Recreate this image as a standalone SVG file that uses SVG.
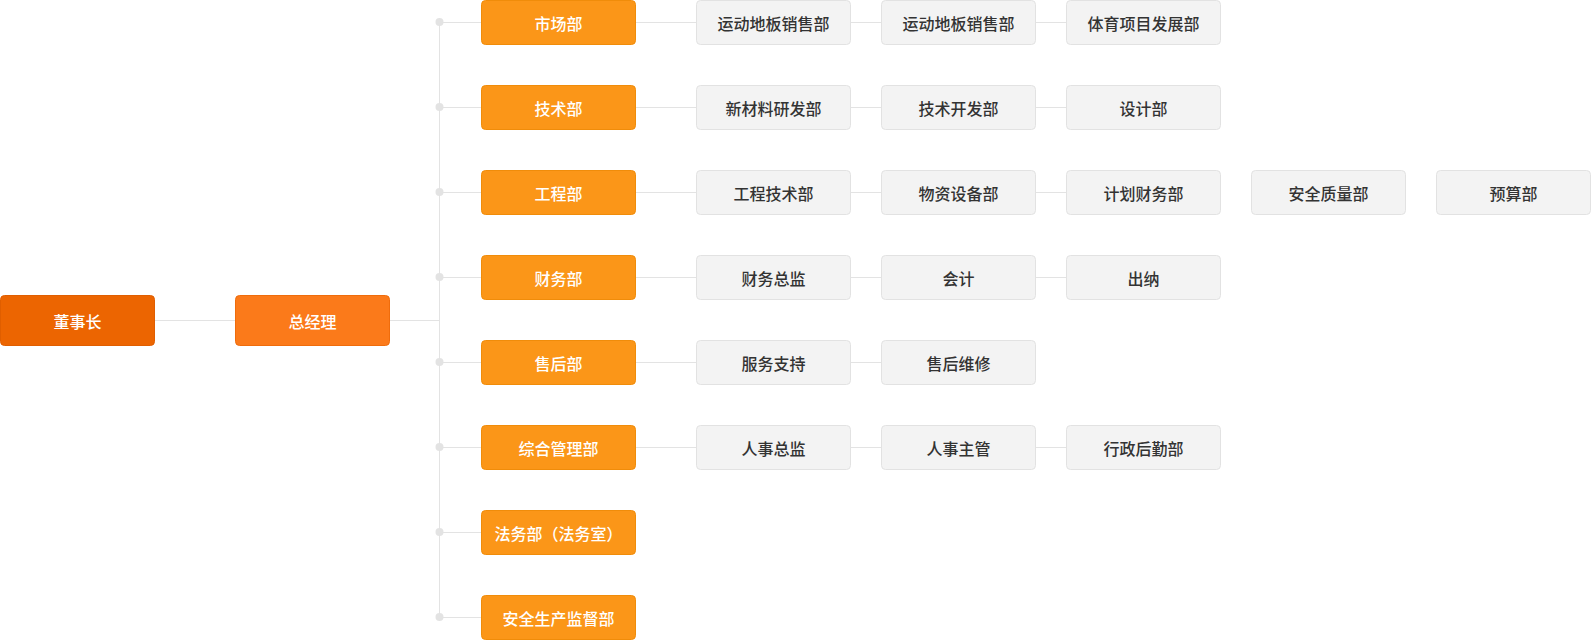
<svg xmlns="http://www.w3.org/2000/svg" width="1591" height="640" viewBox="0 0 1591 640">
<style>
.t{font-family:"Noto Sans CJK SC","Noto Sans",sans-serif;font-size:16px;font-weight:500;text-anchor:middle;dominant-baseline:central}
.w{fill:#ffffff}
.g{fill:#333333}
.o rect{fill:#fb9618;stroke:#f08c0a;stroke-width:1}
.s rect{fill:#f3f3f3;stroke:#e2e2e2;stroke-width:1}
.c line{stroke:#e3e3e3;stroke-width:1}
.c circle{fill:#e3e3e3}
</style>
<rect width="1591" height="640" fill="#ffffff"/>
<g id="connectors" class="c">
<line x1="155" y1="320.5" x2="235" y2="320.5"/>
<line x1="390" y1="320.5" x2="439.5" y2="320.5"/>
<line x1="439.5" y1="22" x2="439.5" y2="617"/>
<line x1="439.5" y1="22.5" x2="481" y2="22.5"/>
<line x1="439.5" y1="107.5" x2="481" y2="107.5"/>
<line x1="439.5" y1="192.5" x2="481" y2="192.5"/>
<line x1="439.5" y1="277.5" x2="481" y2="277.5"/>
<line x1="439.5" y1="362.5" x2="481" y2="362.5"/>
<line x1="439.5" y1="447.5" x2="481" y2="447.5"/>
<line x1="439.5" y1="532.5" x2="481" y2="532.5"/>
<line x1="439.5" y1="617.5" x2="481" y2="617.5"/>
<circle cx="439.5" cy="22" r="4"/>
<circle cx="439.5" cy="107" r="4"/>
<circle cx="439.5" cy="192" r="4"/>
<circle cx="439.5" cy="277" r="4"/>
<circle cx="439.5" cy="362" r="4"/>
<circle cx="439.5" cy="447" r="4"/>
<circle cx="439.5" cy="532" r="4"/>
<circle cx="439.5" cy="617" r="4"/>
<line x1="636" y1="22.5" x2="696" y2="22.5"/>
<line x1="851" y1="22.5" x2="881" y2="22.5"/>
<line x1="1036" y1="22.5" x2="1066" y2="22.5"/>
<line x1="636" y1="107.5" x2="696" y2="107.5"/>
<line x1="851" y1="107.5" x2="881" y2="107.5"/>
<line x1="1036" y1="107.5" x2="1066" y2="107.5"/>
<line x1="636" y1="192.5" x2="696" y2="192.5"/>
<line x1="851" y1="192.5" x2="881" y2="192.5"/>
<line x1="1036" y1="192.5" x2="1066" y2="192.5"/>
<line x1="636" y1="277.5" x2="696" y2="277.5"/>
<line x1="851" y1="277.5" x2="881" y2="277.5"/>
<line x1="1036" y1="277.5" x2="1066" y2="277.5"/>
<line x1="636" y1="362.5" x2="696" y2="362.5"/>
<line x1="851" y1="362.5" x2="881" y2="362.5"/>
<line x1="636" y1="447.5" x2="696" y2="447.5"/>
<line x1="851" y1="447.5" x2="881" y2="447.5"/>
<line x1="1036" y1="447.5" x2="1066" y2="447.5"/>
</g>
<g id="n-chairman"><rect x="0.5" y="295.5" width="154" height="50" rx="4" fill="#ec6501" stroke="#e05e00"/><text class="t w" x="77.5" y="320.5">董事长</text></g>
<g id="n-gm"><rect x="235.5" y="295.5" width="154" height="50" rx="4" fill="#fb7a1a" stroke="#ef6c0c"/><text class="t w" x="312.5" y="320.5">总经理</text></g>
<g id="d0" class="o"><rect x="481.5" y="0.5" width="154" height="44" rx="4"/><text class="t w" x="558.5" y="22.5">市场部</text></g>
<g id="d1" class="o"><rect x="481.5" y="85.5" width="154" height="44" rx="4"/><text class="t w" x="558.5" y="107.5">技术部</text></g>
<g id="d2" class="o"><rect x="481.5" y="170.5" width="154" height="44" rx="4"/><text class="t w" x="558.5" y="192.5">工程部</text></g>
<g id="d3" class="o"><rect x="481.5" y="255.5" width="154" height="44" rx="4"/><text class="t w" x="558.5" y="277.5">财务部</text></g>
<g id="d4" class="o"><rect x="481.5" y="340.5" width="154" height="44" rx="4"/><text class="t w" x="558.5" y="362.5">售后部</text></g>
<g id="d5" class="o"><rect x="481.5" y="425.5" width="154" height="44" rx="4"/><text class="t w" x="558.5" y="447.5">综合管理部</text></g>
<g id="d6" class="o"><rect x="481.5" y="510.5" width="154" height="44" rx="4"/><text class="t w" x="558.5" y="532.5">法务部（法务室）</text></g>
<g id="d7" class="o"><rect x="481.5" y="595.5" width="154" height="44" rx="4"/><text class="t w" x="558.5" y="617.5">安全生产监督部</text></g>

<g id="s00" class="s"><rect x="696.5" y="0.5" width="154" height="44" rx="4"/><text class="t g" x="773.5" y="22.5">运动地板销售部</text></g>
<g id="s01" class="s"><rect x="881.5" y="0.5" width="154" height="44" rx="4"/><text class="t g" x="958.5" y="22.5">运动地板销售部</text></g>
<g id="s02" class="s"><rect x="1066.5" y="0.5" width="154" height="44" rx="4"/><text class="t g" x="1143.5" y="22.5">体育项目发展部</text></g>

<g id="s10" class="s"><rect x="696.5" y="85.5" width="154" height="44" rx="4"/><text class="t g" x="773.5" y="107.5">新材料研发部</text></g>
<g id="s11" class="s"><rect x="881.5" y="85.5" width="154" height="44" rx="4"/><text class="t g" x="958.5" y="107.5">技术开发部</text></g>
<g id="s12" class="s"><rect x="1066.5" y="85.5" width="154" height="44" rx="4"/><text class="t g" x="1143.5" y="107.5">设计部</text></g>

<g id="s20" class="s"><rect x="696.5" y="170.5" width="154" height="44" rx="4"/><text class="t g" x="773.5" y="192.5">工程技术部</text></g>
<g id="s21" class="s"><rect x="881.5" y="170.5" width="154" height="44" rx="4"/><text class="t g" x="958.5" y="192.5">物资设备部</text></g>
<g id="s22" class="s"><rect x="1066.5" y="170.5" width="154" height="44" rx="4"/><text class="t g" x="1143.5" y="192.5">计划财务部</text></g>
<g id="s23" class="s"><rect x="1251.5" y="170.5" width="154" height="44" rx="4"/><text class="t g" x="1328.5" y="192.5">安全质量部</text></g>
<g id="s24" class="s"><rect x="1436.5" y="170.5" width="154" height="44" rx="4"/><text class="t g" x="1513.5" y="192.5">预算部</text></g>

<g id="s30" class="s"><rect x="696.5" y="255.5" width="154" height="44" rx="4"/><text class="t g" x="773.5" y="277.5">财务总监</text></g>
<g id="s31" class="s"><rect x="881.5" y="255.5" width="154" height="44" rx="4"/><text class="t g" x="958.5" y="277.5">会计</text></g>
<g id="s32" class="s"><rect x="1066.5" y="255.5" width="154" height="44" rx="4"/><text class="t g" x="1143.5" y="277.5">出纳</text></g>

<g id="s40" class="s"><rect x="696.5" y="340.5" width="154" height="44" rx="4"/><text class="t g" x="773.5" y="362.5">服务支持</text></g>
<g id="s41" class="s"><rect x="881.5" y="340.5" width="154" height="44" rx="4"/><text class="t g" x="958.5" y="362.5">售后维修</text></g>

<g id="s50" class="s"><rect x="696.5" y="425.5" width="154" height="44" rx="4"/><text class="t g" x="773.5" y="447.5">人事总监</text></g>
<g id="s51" class="s"><rect x="881.5" y="425.5" width="154" height="44" rx="4"/><text class="t g" x="958.5" y="447.5">人事主管</text></g>
<g id="s52" class="s"><rect x="1066.5" y="425.5" width="154" height="44" rx="4"/><text class="t g" x="1143.5" y="447.5">行政后勤部</text></g>
</svg>
